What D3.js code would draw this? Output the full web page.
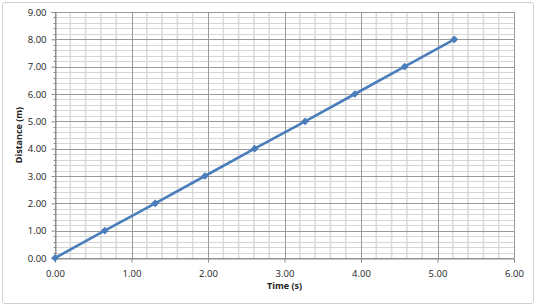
<!DOCTYPE html>
<html>
<head>
<meta charset="utf-8">
<script src="https://cdn.jsdelivr.net/npm/d3@7"></script>
<style>
  body { margin: 0; background: #fff; }
  text { font-family: "Open Sans", "Liberation Sans", sans-serif; fill: #222; }
</style>
</head>
<body>
<div id="chart"></div>
<script>
  const w = 536;
  const h = 306;

  // time (s) and distance (m)
  const times = [0.00, 0.65, 1.31, 1.96, 2.61, 3.27, 3.92, 4.57, 5.22];
  const distances = [0, 1, 2, 3, 4, 5, 6, 7, 8];
  const xTicks = [0, 1, 2, 3, 4, 5, 6];
  const yTicks = [0, 1, 2, 3, 4, 5, 6, 7, 8, 9];
  const xTitle = 'Time (s)';
  const yTitle = 'Distance (m)';

  const margin = {left: 55, top: 12, right: 22, bottom: 48};

  const x = d3.scaleLinear().domain([0, 6]).range([margin.left, w - margin.right]);
  const y = d3.scaleLinear().domain([0, 9]).range([h - margin.bottom, margin.top]);

  const svg = d3.select('#chart')
    .append('svg')
      .attr('width', w)
      .attr('height', h);

  // chart frame
  svg.append('rect')
      .attr('x', 2.5)
      .attr('y', 2.5)
      .attr('width', w - 5)
      .attr('height', h - 5)
      .attr('rx', 2)
      .style('fill', 'white')
      .style('stroke', '#d0d0d0')
      .style('stroke-width', 1);

  const minorX = d3.range(0, 6.001, 0.2).filter(v => Math.abs(v - Math.round(v)) > 1e-6);
  const minorY = d3.range(0, 9.001, 0.2).filter(v => Math.abs(v - Math.round(v)) > 1e-6);

  const grid = svg.append('g');

  // minor grid
  grid.selectAll('line.minor-x')
    .data(minorX)
  .enter().append('line')
      .attr('x1', d => x(d)).attr('x2', d => x(d))
      .attr('y1', y(0)).attr('y2', y(9))
      .style('stroke', '#dcdcdc')
      .style('stroke-width', 1.6);

  grid.selectAll('line.minor-y')
    .data(minorY)
  .enter().append('line')
      .attr('x1', x(0)).attr('x2', x(6))
      .attr('y1', d => Math.round(y(d)) + 0.5).attr('y2', d => Math.round(y(d)) + 0.5)
      .style('stroke', '#d6d6d6')
      .style('stroke-width', 1);

  // major grid
  grid.selectAll('line.major-x')
    .data(xTicks)
  .enter().append('line')
      .attr('x1', d => Math.round(x(d)) + 0.5).attr('x2', d => Math.round(x(d)) + 0.5)
      .attr('y1', y(0)).attr('y2', y(9))
      .style('stroke', '#9a9a9a')
      .style('stroke-width', 1);

  grid.selectAll('line.major-y')
    .data(yTicks)
  .enter().append('line')
      .attr('x1', x(0)).attr('x2', x(6))
      .attr('y1', d => Math.round(y(d)) + 0.5).attr('y2', d => Math.round(y(d)) + 0.5)
      .style('stroke', '#9a9a9a')
      .style('stroke-width', 1);

  // axes
  const xAxis = svg.append('g')
      .attr('transform', 'translate(0,' + (Math.round(y(0)) + 0.5) + ')')
      .call(d3.axisBottom(x).tickValues(xTicks).tickSize(4).tickPadding(8).tickFormat(d3.format('.2f')));

  const yAxis = svg.append('g')
      .attr('transform', 'translate(' + (Math.round(x(0)) + 0.5) + ',0)')
      .call(d3.axisLeft(y).tickValues(yTicks).tickSize(4).tickPadding(5).tickFormat(d3.format('.2f')));

  // minor ticks on y axis
  svg.append('g').selectAll('line')
    .data(minorY)
  .enter().append('line')
      .attr('x1', Math.round(x(0)) + 0.5 - 2).attr('x2', Math.round(x(0)) + 0.5)
      .attr('y1', d => Math.round(y(d)) + 0.5).attr('y2', d => Math.round(y(d)) + 0.5)
      .style('stroke', '#8a8a8a');

  [xAxis, yAxis].forEach(a => {
    a.select('.domain').style('stroke', '#8a8a8a');
    a.selectAll('.tick line').style('stroke', '#8a8a8a');
    a.selectAll('.tick text')
      .style('font-size', '9.5px')
      .style('font-family', '"Open Sans", "Liberation Sans", sans-serif')
      .style('fill', '#222');
  });

  // axis titles
  svg.append('text')
      .attr('x', x(3))
      .attr('y', 289)
      .attr('text-anchor', 'middle')
      .style('font-size', '9px')
      .style('font-weight', 'bold')
      .text(xTitle);

  svg.append('text')
      .attr('transform', 'translate(22,' + y(4.5) + ') rotate(-90)')
      .attr('text-anchor', 'middle')
      .style('font-size', '9px')
      .style('font-weight', 'bold')
      .text(yTitle);

  // series
  const points = times.map((t, i) => ({t: t, d: distances[i]}));

  svg.append('path')
      .datum(points)
      .attr('d', d3.line().x(p => x(p.t)).y(p => y(p.d)))
      .style('fill', 'none')
      .style('stroke', '#4a7ebb')
      .style('stroke-width', 2.6)
      .style('stroke-linejoin', 'round');

  // square-ish diamond markers
  svg.append('g').selectAll('path')
    .data(points)
  .enter().append('path')
      .attr('transform', p => 'translate(' + x(p.t) + ',' + y(p.d) + ') rotate(45)')
      .attr('d', d3.symbol().type(d3.symbolSquare).size(20))
      .style('fill', '#4a7ebb')
      .style('stroke', '#4a7ebb')
      .style('stroke-width', 1);
</script>
</body>
</html>
